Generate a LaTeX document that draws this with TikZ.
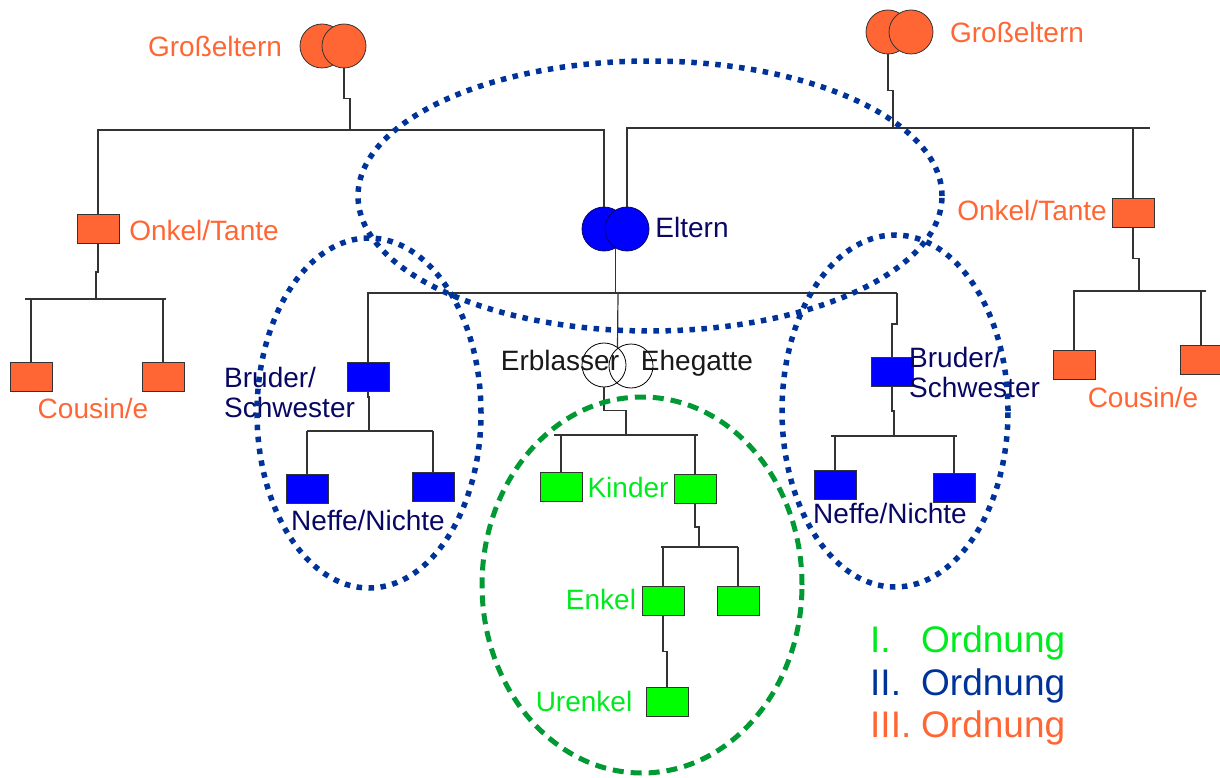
\documentclass[tikz,border=0pt]{standalone}
\usepackage{fontspec}
\setmainfont{Liberation Sans}
\usetikzlibrary{calc}
\definecolor{org}{RGB}{255,102,51}
\definecolor{navy}{RGB}{8,8,100}
\definecolor{dotblue}{RGB}{0,51,153}
\definecolor{dgreen}{RGB}{0,153,51}
\definecolor{lgreen}{RGB}{0,235,30}
\definecolor{fgreen}{RGB}{0,255,0}
\definecolor{fblue}{RGB}{0,0,255}
\definecolor{lncol}{RGB}{51,51,51}
\begin{document}
\begin{tikzpicture}[x=1pt,y=-1pt,
  conn/.style={draw=lncol,line width=1.2pt},
  box/.style={rectangle,draw=lncol,line width=0.8pt,minimum width=42pt,minimum height=29pt,inner sep=0pt},
  obox/.style={box,fill=org},
  bbox/.style={box,fill=fblue},
  gbox/.style={box,fill=fgreen},
  ring/.style={circle,minimum size=44pt,inner sep=0pt,line width=0.8pt},
  ocirc/.style={ring,draw=lncol,fill=org},
  bcirc/.style={ring,draw=navy,fill=fblue},
  wcirc/.style={ring,draw=black},
  lbl/.style={inner sep=0pt,font=\fontsize{28}{30}\selectfont},
  olbl/.style={lbl,text=org},
  nlbl/.style={lbl,text=navy},
  glbl/.style={lbl,text=lgreen},
  klbl/.style={lbl,text=black!90},
  leg/.style={inner sep=0pt,anchor=base west,font=\fontsize{37}{40}\selectfont},
  dotring/.style={draw=dotblue,line width=5.5pt,dash pattern=on 5.5pt off 6.5pt},
  dashring/.style={draw=dgreen,line width=5pt,dash pattern=on 11pt off 7pt}
]
\useasboundingbox (0,0) rectangle (1220,778);

% ---------- grandparents ----------
\node[ocirc] (gpL1) at (322,46) {};
\node[ocirc] (gpL2) at (344,46) {};
\node[olbl] (gpLt) at (215,46) {Großeltern};
\node[ocirc] (gpR1) at (888,32) {};
\node[ocirc] (gpR2) at (911,32) {};
\node[olbl] (gpRt) at (1017,32) {Großeltern};

% ---------- parents ----------
\node[bcirc] (el1) at (604,229) {};
\node[bcirc] (el2) at (627,229) {};
\node[nlbl] (elt) at (692,227) {Eltern};

% ---------- uncles / aunts ----------
\node[obox] (onkelL) at (98,229) {};
\node[olbl] (onkelLt) at (204,230) {Onkel/Tante};
\node[obox] (onkelR) at (1133,212.5) {};
\node[olbl] (onkelRt) at (1032,210) {Onkel/Tante};

% ---------- cousins ----------
\node[obox] (cL1) at (31,376.5) {};
\node[obox] (cL2) at (163,376.5) {};
\node[olbl] (cLt) at (93,408) {Cousin/e};
\node[obox] (cR1) at (1074,364.5) {};
\node[obox] (cR2) at (1201,359.5) {};
\node[olbl] (cRt) at (1143,397) {Cousin/e};

% ---------- siblings ----------
\node[bbox] (brL) at (368,377) {};
\node[nlbl,anchor=west,align=left] (brLt) at (224,392) {Bruder/\\Schwester};
\node[bbox] (brR) at (892,372) {};
\node[nlbl,anchor=west,align=left] (brRt) at (909,372) {Bruder/\\Schwester};

% ---------- nephews / nieces ----------
\node[bbox] (nL1) at (307,488.5) {};
\node[bbox] (nL2) at (433,487) {};
\node[nlbl] (nLt) at (368,520) {Neffe/Nichte};
\node[bbox] (nR1) at (835,485) {};
\node[bbox] (nR2) at (954,487.5) {};
\node[nlbl] (nRt) at (890,513) {Neffe/Nichte};

% ---------- deceased and spouse ----------
\node[wcirc] (erb) at (604,365) {};
\node[wcirc] (ehe) at (631,366) {};
\node[klbl] (erbt) at (560,360) {Erblasser};
\node[klbl] (ehet) at (697,363) {Ehegatte};

% ---------- descendants ----------
\node[gbox] (k1) at (561,487) {};
\node[gbox] (k2) at (695,489) {};
\node[glbl] (kt) at (628,487) {Kinder};
\node[gbox] (e1) at (663,600.5) {};
\node[gbox] (e2) at (738,600.5) {};
\node[glbl] (et) at (601,599) {Enkel};
\node[gbox] (u1) at (667,702) {};
\node[glbl] (ut) at (584,701) {Urenkel};

% ---------- junction coordinates ----------
\coordinate (barL) at (350,130);
\coordinate (barR) at (893,128);
\coordinate (barRend) at (1150,128);
\coordinate (barCLa) at (25,299);
\coordinate (barCLb) at (166,299);
\coordinate (barCL) at (96,299);
\coordinate (barCRa) at (1073,291);
\coordinate (barCRb) at (1206,291);
\coordinate (barCR) at (1139,291);
\coordinate (barS) at (618,293);
\coordinate (barSend) at (897,293);
\coordinate (elJ) at (615.5,248);
\coordinate (erbJ) at (617.5,348);
\coordinate (barK) at (626,435);
\coordinate (barKa) at (554,435);
\coordinate (barKb) at (698,435);
\coordinate (barE) at (699,547);
\coordinate (barEa) at (661,547);
\coordinate (barEb) at (738,547);
\coordinate (barNL) at (369,431);
\coordinate (barNLa) at (307,431);
\coordinate (barNLb) at (433,431);
\coordinate (barNR) at (894,436);
\coordinate (barNRa) at (831,436);
\coordinate (barNRb) at (957,436);

% ---------- connectors ----------
\draw[conn] (gpL2.south) -- ++(0,30) -| (barL);
\draw[conn] (onkelL.north) |- (el1.north |- barL) -- (el1.north);
\draw[conn] (gpR1.south) -- ++(0,36) -| (barR);
\draw[conn] (el2.north) |- (barRend);
\draw[conn] (onkelR.north) -- (onkelR.north |- barR);

\draw[conn] (onkelL.south) -- ++(0,28) -| (barCL);
\draw[conn] (barCLa) -- (barCLb);
\draw[conn] (cL1.north) -- (cL1.north |- barCL);
\draw[conn] (cL2.north) -- (cL2.north |- barCL);

\draw[conn] (onkelR.south) -- ++(0,31) -| (barCR);
\draw[conn] (barCRa) -- (barCRb);
\draw[conn] (cR1.north) -- (cR1.north |- barCR);
\draw[conn] (cR2.north) -- (cR2.north |- barCR);

\draw[conn] (elJ) -- (elJ |- barS) -- (barS);
\draw[conn] (brL.north) |- (barSend);
\draw[conn] (barSend) -- ++(0,31) -| (brR.north);
\draw[conn] (barS) -- (erbJ);

\draw[conn] (brL.south) -- ++(0,5) -| (barNL);
\draw[conn] (barNLa) -- (barNLb);
\draw[conn] (nL1.north) -- (nL1.north |- barNL);
\draw[conn] (nL2.north) -- (nL2.north |- barNL);

\draw[conn] (brR.south) -- ++(0,24) -| (barNR);
\draw[conn] (barNRa) -- (barNRb);
\draw[conn] (nR1.north) -- (nR1.north |- barNR);
\draw[conn] (nR2.north) -- (nR2.north |- barNR);

\draw[conn] (erb.south) -- ++(0,23) -| (barK);
\draw[conn] (barKa) -- (barKb);
\draw[conn] (k1.north) -- (k1.north |- barK);
\draw[conn] (k2.north) -- (k2.north |- barK);

\draw[conn] (k2.south) -- ++(0,23) -| (barE);
\draw[conn] (barEa) -- (barEb);
\draw[conn] (e1.north) -- (e1.north |- barE);
\draw[conn] (e2.north) -- (e2.north |- barE);

\draw[conn] (e1.south) -- ++(0,36) -| (u1.north);

% ---------- order groupings ----------
\draw[dotring] (650,196) ellipse [x radius=292pt, y radius=135pt];
\draw[dotring] (369,413) ellipse [x radius=112pt, y radius=175pt];
\draw[dotring] (895,411) ellipse [x radius=113pt, y radius=176pt];
\draw[dashring] (642,585) ellipse [x radius=160pt, y radius=188pt];

% ---------- legend ----------
\node[leg,text=lgreen] (l1) at (870,652) {I.};
\node[leg,text=lgreen] (l1b) at (921,652) {Ordnung};
\node[leg,text=dotblue] (l2) at (870,695) {II.};
\node[leg,text=dotblue] (l2b) at (921,695) {Ordnung};
\node[leg,text=org] (l3) at (870,737) {III.};
\node[leg,text=org] (l3b) at (921,737) {Ordnung};
\end{tikzpicture}
\end{document}
